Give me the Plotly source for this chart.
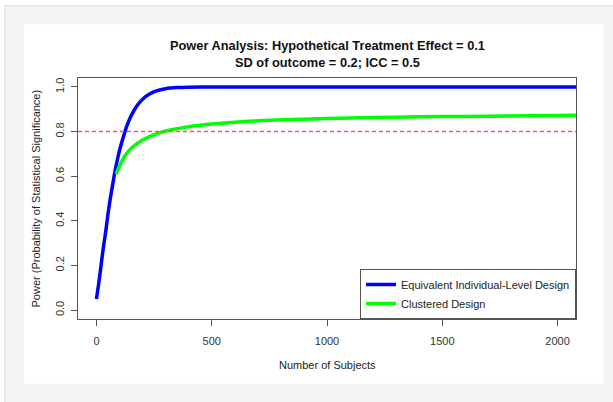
import plotly.graph_objects as go

# ---- data ----
individual_n = [0, 10, 20, 30, 40, 50, 60, 70, 80, 90, 100, 115, 130, 150, 175, 200,
                230, 260, 300, 350, 400, 500, 700, 1000, 1500, 2000, 2100]
individual_power = [0.05, 0.12, 0.20, 0.28, 0.35, 0.43, 0.50, 0.56, 0.62, 0.67, 0.715,
                    0.77, 0.82, 0.87, 0.915, 0.945, 0.968, 0.982, 0.992, 0.997, 0.999,
                    1.0, 1.0, 1.0, 1.0, 1.0, 1.0]

clustered_n = [85, 100, 120, 140, 160, 200, 240, 280, 320, 400, 500, 600, 720, 850,
               1000, 1200, 1400, 1600, 1800, 2000, 2100]
clustered_power = [0.61, 0.645, 0.685, 0.713, 0.733, 0.762, 0.782, 0.796, 0.807, 0.822,
                   0.834, 0.842, 0.849, 0.854, 0.859, 0.863, 0.866, 0.868, 0.870, 0.872,
                   0.873]

threshold = 0.8
x_ticks = [0, 500, 1000, 1500, 2000]
y_ticks = [0.0, 0.2, 0.4, 0.6, 0.8, 1.0]
series_names = ["Equivalent Individual-Level Design", "Clustered Design"]
title_lines = ["Power Analysis: Hypothetical Treatment Effect = 0.1",
               "SD of outcome = 0.2; ICC = 0.5"]
x_label = "Number of Subjects"
y_label = "Power (Probability of Statistical Significance)"

FONT = "Liberation Sans, Arial, Helvetica, sans-serif"
W, H = 613, 402
L, R, T, B = 78, 37, 77.5, 83
pw, ph = W - L - R, H - T - B

def px_to_paper_x(px):
    return (px - L) / pw

def px_to_paper_y(py):
    return (H - B - py) / ph

fig = go.Figure()

fig.add_trace(go.Scatter(
    x=individual_n, y=individual_power, mode="lines", name=series_names[0],
    line=dict(color="#0000ff", width=3.5, shape="spline", smoothing=0.6),
))
fig.add_trace(go.Scatter(
    x=clustered_n, y=clustered_power, mode="lines", name=series_names[1],
    line=dict(color="#00ff00", width=3.5, shape="spline", smoothing=0.6),
))

fig.add_shape(type="line", xref="paper", yref="y", x0=0, x1=1,
              y0=threshold, y1=threshold, layer="above",
              line_color="#ff5555", line_width=1.6, line_dash="4px,3px")

# page / card backgrounds
fig.add_shape(type="rect", xref="paper", yref="paper", layer="below",
              x0=px_to_paper_x(5), x1=px_to_paper_x(640),
              y0=px_to_paper_y(430), y1=px_to_paper_y(5),
              fillcolor="#f4f4f4", line=dict(color="#e4e4e4", width=1.5))
fig.add_shape(type="rect", xref="paper", yref="paper", layer="below",
              x0=px_to_paper_x(24), x1=px_to_paper_x(603),
              y0=px_to_paper_y(384), y1=px_to_paper_y(24),
              fillcolor="#ffffff", line=dict(width=0))

# title
fig.add_annotation(text="<b>" + title_lines[0] + "<br>" + title_lines[1] + "</b>",
                   xref="paper", yref="paper", x=0.5, y=px_to_paper_y(53),
                   xanchor="center", yanchor="middle", showarrow=False,
                   font=dict(family=FONT, size=12.8, color="#111"))
# axis titles
fig.add_annotation(text=x_label, xref="paper", yref="paper", x=0.5,
                   y=px_to_paper_y(365), xanchor="center", yanchor="middle",
                   showarrow=False, font=dict(family=FONT, size=11, color="#222"))
fig.add_annotation(text=y_label, xref="paper", yref="paper", x=px_to_paper_x(35),
                   y=0.5, xanchor="center", yanchor="middle", textangle=-90,
                   showarrow=False, font=dict(family=FONT, size=11, color="#222"))

axis_common = dict(showgrid=False, zeroline=False, showline=True, mirror=True,
                   linecolor="#555", linewidth=1, ticks="outside", ticklen=6,
                   tickcolor="#555", tickwidth=1,
                   tickfont=dict(family=FONT, size=11, color="#333"))

fig.update_xaxes(range=[-80, 2080], tickvals=x_ticks,
                 ticktext=[str(v) for v in x_ticks], ticklabelstandoff=6,
                 **axis_common)
fig.update_yaxes(range=[-0.04, 1.04], tickvals=y_ticks,
                 ticktext=[f"{v:.1f}" for v in y_ticks], tickangle=-90,
                 ticklabelstandoff=3, **axis_common)

fig.update_layout(
    width=W, height=H,
    margin=dict(l=L, r=R, t=T, b=B, pad=0),
    paper_bgcolor="#ffffff", plot_bgcolor="#ffffff",
    showlegend=True,
    legend=dict(x=1, y=0, xanchor="right", yanchor="bottom",
                bgcolor="#ffffff", bordercolor="#555", borderwidth=1,
                font=dict(family=FONT, size=11, color="#222"),
                itemwidth=30, tracegroupgap=0),
    font=dict(family=FONT),
)

fig.write_html("out.html")
